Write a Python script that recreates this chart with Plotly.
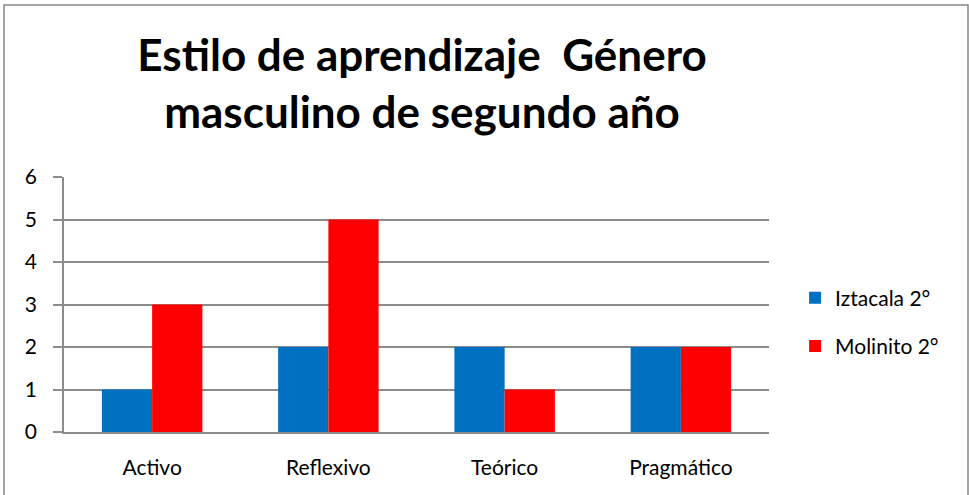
import plotly.graph_objects as go

# Chart data
categorias = ["Activo", "Reflexivo", "Teórico", "Pragmático"]
iztacala = [1, 2, 2, 2]
molinito = [3, 5, 1, 2]
series_names = ["Iztacala 2°", "Molinito 2°"]

fnt = "Lato, Calibri, 'Open Sans', sans-serif"
grid = "#8c8c8c"

fig = go.Figure()
fig.add_trace(go.Bar(x=categorias, y=iztacala, name=series_names[0],
                     marker=dict(color="#0070C0", line_width=0), legendgroup="a"))
fig.add_trace(go.Bar(x=categorias, y=molinito, name=series_names[1],
                     marker=dict(color="#FF0000", line_width=0), legendgroup="b"))

fig.update_layout(
    width=969, height=495,
    margin=dict(l=64, r=200, t=177, b=63),
    paper_bgcolor="white", plot_bgcolor="white",
    barmode="group", bargap=0.43, bargroupgap=0,
    font=dict(family=fnt, size=21, color="black"),
    title=dict(
        text="<b>Estilo de aprendizaje  Género<br>masculino de segundo año</b>",
        font=dict(family=fnt, size=44, color="black"),
        x=(422 - 64) / 705, xref="paper", xanchor="center",
        y=1 - 71 / 495, yref="container", yanchor="middle",
    ),
    legend=dict(
        x=1.037, y=0.431, xanchor="left", yanchor="middle",
        font=dict(family=fnt, size=21), tracegroupgap=18,
        itemwidth=30, bgcolor="rgba(0,0,0,0)",
    ),
    showlegend=True,
)

fig.update_yaxes(
    range=[0, 6], dtick=1, showgrid=True, gridcolor=grid, gridwidth=1.5,
    showline=True, linecolor=grid, linewidth=1.5,
    ticks="outside", ticklen=9, tickcolor=grid, tickwidth=1.5,
    ticklabelstandoff=12, zeroline=False,
)
fig.update_xaxes(
    showline=True, linecolor=grid, linewidth=1.5, ticks="",
    ticklabelstandoff=16, showgrid=False,
)

# outer chart border
fig.add_shape(type="rect", xref="paper", yref="paper",
              x0=(4 - 64) / 705, x1=(968 - 64) / 705,
              y0=-0.6, y1=1 + (177 - 5) / 255,
              line=dict(color="#868686", width=1.5), fillcolor="rgba(0,0,0,0)")

fig.write_html("out.html", config={"displayModeBar": False},
               post_script="document.body.style.margin='0';")
